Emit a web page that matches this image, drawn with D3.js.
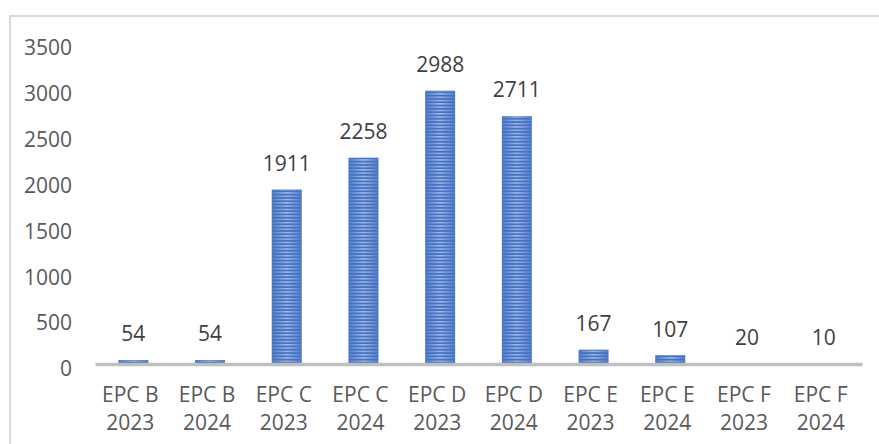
<!DOCTYPE html>
<html><head><meta charset="utf-8">
<script src="https://cdn.jsdelivr.net/npm/d3@7"></script>
<style>
html,body{margin:0;padding:0;background:#fff;}
svg{display:block;}
text{font-family:"Open Sans","Noto Sans",sans-serif;}
</style></head>
<body>
<svg id="chart" width="879" height="444"></svg>
<script>
const categories = ["EPC B|2023","EPC B|2024","EPC C|2023","EPC C|2024","EPC D|2023","EPC D|2024","EPC E|2023","EPC E|2024","EPC F|2023","EPC F|2024"];
const values = [54, 54, 1911, 2258, 2988, 2711, 167, 107, 20, 10];
const yTicks = [0, 500, 1000, 1500, 2000, 2500, 3000, 3500];

const svg = d3.select("#chart");
const W = 879, H = 444;

// frame
svg.append("path").attr("d", `M10,${H} L10,16 L${W},16`).attr("fill","none").attr("stroke","#d9d9d9").attr("stroke-width",2);

const x = d3.scaleBand().domain(categories).range([95, 862]).paddingInner(0.609).paddingOuter(0.3045);
const y = d3.scaleLinear().domain([0, 3500]).range([365, 43.7]);

const defs = svg.append("defs");
const pat = defs.append("pattern").attr("id","stripes").attr("patternUnits","userSpaceOnUse")
  .attr("width", 8).attr("height", 3.3);
pat.append("rect").attr("x",0).attr("y",0.9).attr("width",8).attr("height",1.3).attr("fill","#ffffff");
const hg = defs.append("linearGradient").attr("id","hgrad").attr("x1",0).attr("x2",1).attr("y1",0).attr("y2",0);
hg.append("stop").attr("offset","0%").attr("stop-color","#1a1a1a");
hg.append("stop").attr("offset","50%").attr("stop-color","#9a9a9a");
hg.append("stop").attr("offset","100%").attr("stop-color","#1a1a1a");
const mask = defs.append("mask").attr("id","barmask").attr("maskUnits","objectBoundingBox").attr("maskContentUnits","objectBoundingBox");
mask.append("rect").attr("x",0).attr("y",0).attr("width",1).attr("height",1).attr("fill","url(#hgrad)");

const bars = svg.append("g");
bars.selectAll("rect.base").data(values).join("rect").attr("class","base")
  .attr("x",(d,i)=>x(categories[i])).attr("width",x.bandwidth())
  .attr("y",d=>y(d)).attr("height",d=>y(0)-y(d)).attr("fill","#4472c4");
bars.selectAll("rect.str").data(values).join("rect").attr("class","str")
  .attr("x",(d,i)=>x(categories[i])).attr("width",x.bandwidth())
  .attr("y",d=>y(d)).attr("height",d=>y(0)-y(d)).attr("fill","url(#stripes)").attr("mask","url(#barmask)");

// y tick labels
const yAxis = d3.axisLeft(y).tickValues(yTicks).tickFormat(d3.format("d")).tickSize(0).tickPadding(0);
const gy = svg.append("g").attr("transform","translate(72,3.5)").call(yAxis);
gy.select(".domain").remove();
gy.selectAll("text").attr("fill","#595959").attr("font-size",21).attr("font-family",'"Open Sans",sans-serif').attr("dy","0.35em");

// x axis
const xAxis = d3.axisBottom(x).tickSize(0).tickFormat(()=>"");
const gx = svg.append("g").attr("transform",`translate(0,${y(0) - 1})`).call(xAxis);
gx.select(".domain").attr("stroke","#bfbfbf").attr("stroke-width",3.5);
gx.selectAll(".tick").each(function(d){
  const t = d3.select(this).select("text").attr("fill","#595959").attr("font-size",21).attr("font-family",'"Open Sans",sans-serif').attr("y",0).attr("dy",null);
  const parts = d.split("|");
  t.selectAll("tspan").data(parts).join("tspan").attr("x",-3).attr("y",(p,i)=>38+i*28).text(p=>p);
});

// data labels
svg.append("g").selectAll("text").data(values).join("text")
  .attr("x",(d,i)=>x(categories[i])+x.bandwidth()/2)
  .attr("y",d=>y(d)-26).attr("dy","0.35em").attr("text-anchor","middle")
  .attr("fill","#404040").attr("font-size",21).text(d=>d);
</script>
</body></html>
